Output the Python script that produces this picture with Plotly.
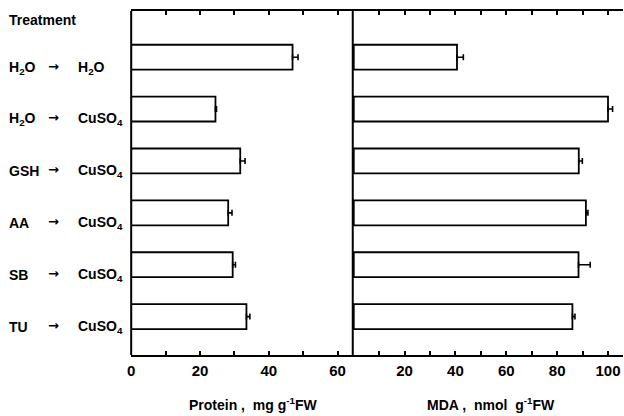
import plotly.graph_objects as go

treat_from = ["H<sub>2</sub>O", "H<sub>2</sub>O", "GSH", "AA", "SB", "TU"]
treat_to = ["H<sub>2</sub>O", "CuSO<sub>4</sub>", "CuSO<sub>4</sub>", "CuSO<sub>4</sub>", "CuSO<sub>4</sub>", "CuSO<sub>4</sub>"]
categories = ["H2O-H2O", "H2O-CuSO4", "GSH-CuSO4", "AA-CuSO4", "SB-CuSO4", "TU-CuSO4"]
protein = [46.9, 24.5, 31.7, 28.2, 29.5, 33.5]
protein_err = [1.6, 0.3, 1.4, 1.1, 0.8, 1.0]
mda = [40.6, 100.0, 88.5, 91.3, 88.4, 86.0]
mda_err = [2.5, 1.8, 1.4, 0.8, 4.6, 1.0]
left_ticks = [0, 10, 20, 30, 40, 50, 60]
left_labels = ["0", "", "20", "", "40", "", "60"]
right_ticks = [10, 20, 30, 40, 50, 60, 70, 80, 90, 100]
right_labels = ["", "20", "", "40", "", "60", "", "80", "", "100"]

W, H = 624, 416
FONT = "Liberation Sans"

def px(x):
    return x / W

def py(y):
    return 1 - y / H

fig = go.Figure()
bar_style = dict(orientation="h", marker=dict(color="white", line=dict(color="black", width=1.8)),
                 width=0.48, showlegend=False)
fig.add_trace(go.Bar(x=protein, y=categories, xaxis="x", yaxis="y",
                     error_x=dict(type="data", array=protein_err, arrayminus=[0] * 6, symmetric=False,
                                  color="black", thickness=1.6, width=3), **bar_style))
fig.add_trace(go.Bar(x=mda, y=categories, xaxis="x2", yaxis="y",
                     error_x=dict(type="data", array=mda_err, arrayminus=[0] * 6, symmetric=False,
                                  color="black", thickness=1.6, width=3), **bar_style))

xcommon = dict(showline=True, linewidth=2, linecolor="black", mirror="ticks", ticks="inside",
               ticklen=4, tickwidth=1.5, tickcolor="black", showgrid=False, zeroline=False,
               tickfont=dict(family=FONT, size=15, color="black", weight="bold"), ticklabelstandoff=1)
fig.update_layout(
    width=W, height=H, margin=dict(l=0, r=0, t=0, b=0),
    plot_bgcolor="white", paper_bgcolor="white",
    xaxis=dict(domain=[px(128), px(351)], range=[0, 64.4], tickmode="array",
               tickvals=left_ticks, ticktext=left_labels, anchor="y", **xcommon),
    xaxis2=dict(domain=[px(351), px(623)], range=[-0.4, 105.9], tickmode="array",
                tickvals=right_ticks, ticktext=right_labels, anchor="y", **xcommon),
    yaxis=dict(domain=[py(355), py(11)], type="category", categoryorder="array",
               categoryarray=categories, range=[5.74, -0.89], showticklabels=False,
               ticks="", showgrid=False, zeroline=False, showline=False),
)

# divider / frame lines
fig.add_shape(type="line", xref="paper", yref="paper", x0=px(351), x1=px(351), y0=py(355), y1=py(11),
              line=dict(color="black", width=2))
fig.add_shape(type="line", xref="paper", yref="paper", x0=px(128), x1=px(128), y0=py(355), y1=py(11),
              line=dict(color="black", width=2))

lab_font = dict(family=FONT, size=14, color="black", weight="bold")
fig.add_annotation(text="Treatment", xref="paper", yref="paper", x=px(3), y=py(20),
                   xanchor="left", yanchor="middle", showarrow=False,
                   font=dict(family=FONT, size=14, color="black", weight="bold"))
label_y = [68, 119, 171, 223, 275, 327]
for a, b, yy in zip(treat_from, treat_to, label_y):
    fig.add_annotation(text=a, xref="paper", yref="paper", x=px(3), y=py(yy),
                       xanchor="left", yanchor="middle", showarrow=False, font=lab_font)
    fig.add_annotation(text="→", xref="paper", yref="paper", x=px(50), y=py(yy - 2),
                       xanchor="center", yanchor="middle", showarrow=False,
                       font=dict(family="DejaVu Sans", size=13, color="black", weight="bold"))
    fig.add_annotation(text=b, xref="paper", yref="paper", x=px(72), y=py(yy),
                       xanchor="left", yanchor="middle", showarrow=False, font=lab_font)

title_font = dict(family=FONT, size=14, color="black", weight="bold")
fig.add_annotation(text="Protein ,  mg g<sup>-1</sup>FW", xref="paper", yref="paper", x=px(251), y=py(404),
                   xanchor="center", yanchor="middle", showarrow=False, font=title_font)
fig.add_annotation(text="MDA ,  nmol  g<sup>-1</sup>FW", xref="paper", yref="paper", x=px(490), y=py(404),
                   xanchor="center", yanchor="middle", showarrow=False, font=title_font)

fig.write_html("out.html")
